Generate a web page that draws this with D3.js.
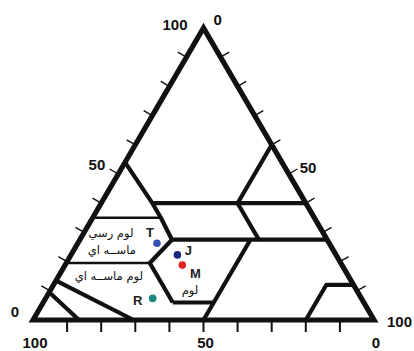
<!DOCTYPE html>
<html>
<head>
<meta charset="utf-8">
<script src="https://cdn.jsdelivr.net/npm/d3@7"></script>
<style>
  body { margin: 0; background: #fff; }
  svg { display: block; }
</style>
</head>
<body>
<div id="chart"></div>
<script>
// soil texture triangle, points are [clay, silt], sand is whatever is left

const clayLabels = [100, 50, 0];   // left side, top to bottom
const siltLabels = [0, 50, 100];   // right side, top to bottom
const sandLabels = [100, 50, 0];   // bottom, left to right
const tickSteps = [10, 20, 30, 40, 50, 60, 70, 80, 90];

const outline = [[0, 0], [100, 0], [0, 100]];

// class boundaries
const sandyClayLine = [[54, 0], [40, 15], [35, 20], [27.5, 27]];
const clay40Line = [[40, 15], [40, 60]];
const silt40Line = [[60, 40], [40, 40]];
const clay27Line = [[27.5, 27], [27.5, 72.5]];
const sand20Line = [[40, 40], [27.5, 52.5]];
const silt50Line = [[27.5, 50], [0, 50]];
const clay35Line = [[35, 0], [35, 20]];
const clay20Line = [[19.5, 0], [19.5, 24.5]];
const loamLeftLine = [[27.5, 27], [19.5, 24.5], [6, 38]];
const loamBottomLine = [[6, 38], [6, 50]];
const loamySandLine = [[13.5, 0], [0, 29.5]];
const sandLine = [[9.5, 0], [0, 13.5]];
const siltLine = [[0, 80], [12, 80], [12, 88]];

const sampleNames = ['T', 'J', 'M', 'R'];
const sampleClay = [26.3, 22.3, 18.8, 7.4];
const sampleSilt = [23.2, 31.2, 34.4, 31.4];

const zoneNames = ['لوم رسي', 'ماســه اي', 'لوم ماســه اي', 'لوم'];
const zoneClay = [28.3, 22.6, 13.7, 8.9];
const zoneSilt = [8.7, 11.8, 15.4, 41.6];

// styling stuff
const sampleColors = ['#3550b5', '#1c2a7e', '#e42222', '#1b8a80'];
const sampleLabelShift = [[-7, -6], [11, 0], [13, 13], [-15, 7]];
const thinLines = [clay35Line, clay20Line];

const width = 414;
const height = 351;

const xScale = d3.scaleLinear().domain([0, 100]).range([33, 374]);
const yScale = d3.scaleLinear().domain([0, 100]).range([320, 28]);

function toX(clay, silt) { return xScale(silt + clay / 2); }
function toY(clay) { return yScale(clay); }

const line = d3.line()
    .x((d) => toX(d[0], d[1]))
    .y((d) => toY(d[0]));

const svg = d3.select('#chart')
    .append('svg')
        .attr('width', width)
        .attr('height', height);

const boundaries = [sandyClayLine, clay40Line, silt40Line, clay27Line, sand20Line, silt50Line,
    clay35Line, clay20Line, loamLeftLine, loamBottomLine, loamySandLine, sandLine, siltLine];

svg.append('g').selectAll('path')
    .data(boundaries)
    .enter()
        .append('path')
            .attr('d', (d) => line(d))
            .attr('fill', 'none')
            .attr('stroke', '#111')
            .attr('stroke-width', (d) => thinLines.includes(d) ? 2.4 : 4.2)
            .attr('stroke-linejoin', 'round');

// ticks, left and right ones are slanted like the original
const ang = Math.PI / 6;
const tickLen = 10;
let ticks = svg.append('g').attr('stroke', '#111');

tickSteps.forEach((v) => {
    let lx = toX(v, 0), ly = toY(v);
    ticks.append('line')
        .attr('x1', lx).attr('y1', ly)
        .attr('x2', lx - tickLen * Math.cos(ang)).attr('y2', ly - tickLen * Math.sin(ang))
        .attr('stroke-width', 1.4);

    let rx = toX(v, 100 - v), ry = toY(v);
    ticks.append('line')
        .attr('x1', rx).attr('y1', ry)
        .attr('x2', rx + tickLen * Math.cos(ang)).attr('y2', ry - tickLen * Math.sin(ang))
        .attr('stroke-width', 1.4);

    let bx = toX(0, v);
    ticks.append('line')
        .attr('x1', bx).attr('y1', toY(0))
        .attr('x2', bx).attr('y2', toY(0) + 12)
        .attr('stroke-width', 2);
});

svg.append('path')
    .attr('d', line(outline) + 'Z')
    .attr('fill', 'none')
    .attr('stroke', '#111')
    .attr('stroke-width', 5.2)
    .attr('stroke-linejoin', 'miter');

// axis numbers
const numFont = '"Liberation Sans", Arial, sans-serif';
const leftShift = [[-16, 2], [-13, -4], [-14, -3]];
const rightShift = [[10, -3], [11, -1], [13, 7]];

let nums = svg.append('g')
    .attr('font-family', numFont)
    .attr('font-weight', 'bold')
    .attr('font-size', 15)
    .attr('fill', '#111');

clayLabels.forEach((v, i) => {
    nums.append('text')
        .attr('x', toX(v, 0) + leftShift[i][0])
        .attr('y', toY(v) + leftShift[i][1])
        .attr('text-anchor', 'end')
        .text(v);
});

siltLabels.forEach((v, i) => {
    let c = 100 - v;
    nums.append('text')
        .attr('x', toX(c, v) + rightShift[i][0])
        .attr('y', toY(c) + rightShift[i][1])
        .attr('text-anchor', 'start')
        .text(v);
});

sandLabels.forEach((v, i) => {
    nums.append('text')
        .attr('x', toX(0, 100 - v) + 2)
        .attr('y', 348)
        .attr('text-anchor', 'middle')
        .text(v);
});

// zone names in arabic
svg.append('g').selectAll('text')
    .data(zoneNames)
    .enter()
        .append('text')
            .attr('x', (d, i) => toX(zoneClay[i], zoneSilt[i]))
            .attr('y', (d, i) => toY(zoneClay[i]))
            .attr('text-anchor', 'middle')
            .attr('direction', 'rtl')
            .attr('font-family', '"DejaVu Sans", sans-serif')
            .attr('font-size', 11.5)
            .attr('fill', '#111')
            .text((d) => d);

// the samples
svg.append('g').selectAll('circle')
    .data(sampleNames)
    .enter()
        .append('circle')
            .attr('cx', (d, i) => toX(sampleClay[i], sampleSilt[i]))
            .attr('cy', (d, i) => toY(sampleClay[i]))
            .attr('r', 3.8)
            .attr('fill', (d, i) => sampleColors[i]);

svg.append('g').selectAll('text')
    .data(sampleNames)
    .enter()
        .append('text')
            .attr('x', (d, i) => toX(sampleClay[i], sampleSilt[i]) + sampleLabelShift[i][0])
            .attr('y', (d, i) => toY(sampleClay[i]) + sampleLabelShift[i][1])
            .attr('text-anchor', 'middle')
            .attr('font-family', numFont)
            .attr('font-weight', 'bold')
            .attr('font-size', 13)
            .attr('fill', '#222')
            .text((d) => d);
</script>
</body>
</html>
